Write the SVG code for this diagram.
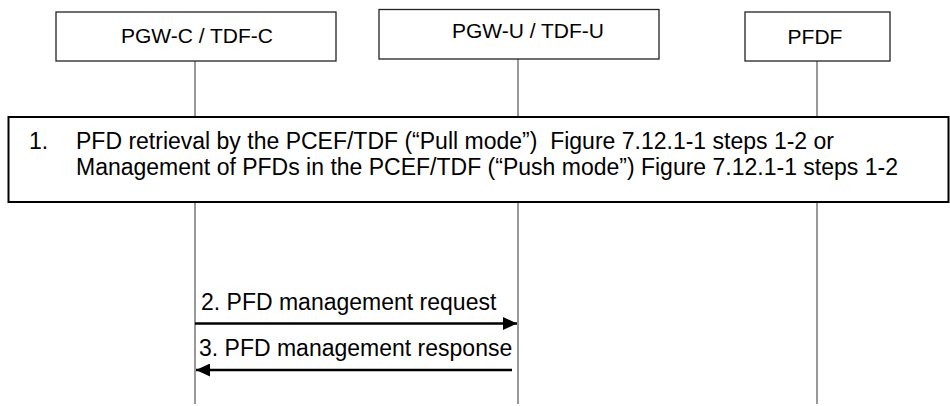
<svg xmlns="http://www.w3.org/2000/svg" width="950" height="406" viewBox="0 0 950 406">
<style>
.node{fill:#fff;stroke:#222;stroke-width:1.3}
.life{stroke:#555;stroke-width:1.2;fill:none}
.msg{stroke:#000;stroke-width:2.5;fill:none}
text{font-family:"Liberation Sans",Arial,sans-serif;fill:#000}
.lbl{font-size:21px}
.t{font-size:23px}
</style>
<defs>
<marker id="ah" markerWidth="14" markerHeight="13" refX="14" refY="6.5" orient="auto" markerUnits="userSpaceOnUse">
<path d="M0,0 L14,6.5 L0,13 Z" fill="#000"/>
</marker>
</defs>
<rect width="950" height="406" fill="#fff"/>
<g id="lifelines">
<line class="life" x1="195" y1="61" x2="195" y2="404"/>
<line class="life" x1="518" y1="59" x2="518" y2="404"/>
<line class="life" x1="817" y1="61" x2="817" y2="404"/>
</g>
<g id="n1">
<rect class="node" x="56" y="12" width="280" height="49"/>
<text class="lbl" x="197" y="43" text-anchor="middle">PGW-C / TDF-C</text>
</g>
<g id="n2">
<rect class="node" x="379" y="9.5" width="280" height="49.5"/>
<text class="lbl" x="528" y="38" text-anchor="middle">PGW-U / TDF-U</text>
</g>
<g id="n3">
<rect class="node" x="745" y="12" width="145" height="49"/>
<text class="lbl" x="815" y="44" text-anchor="middle">PFDF</text>
</g>
<g id="step1">
<rect x="8.5" y="117" width="940" height="85" fill="#fff" stroke="#000" stroke-width="2"/>
<text class="t" x="29" y="149">1.</text>
<text class="t" x="76" y="149" xml:space="preserve" style="white-space:pre">PFD retrieval by the PCEF/TDF (“Pull mode”)  Figure 7.12.1-1 steps 1-2 or</text>
<text class="t" x="76" y="175">Management of PFDs in the PCEF/TDF (“Push mode”) Figure 7.12.1-1 steps 1-2</text>
</g>
<g id="connectors">
<line class="msg" x1="195" y1="323.5" x2="517" y2="323.5" marker-end="url(#ah)"/>
<text class="t" x="201" y="310">2. PFD management request</text>
<line class="msg" x1="512" y1="370" x2="196" y2="370" marker-end="url(#ah)"/>
<text class="t" x="199" y="356">3. PFD management response</text>
</g>
</svg>
